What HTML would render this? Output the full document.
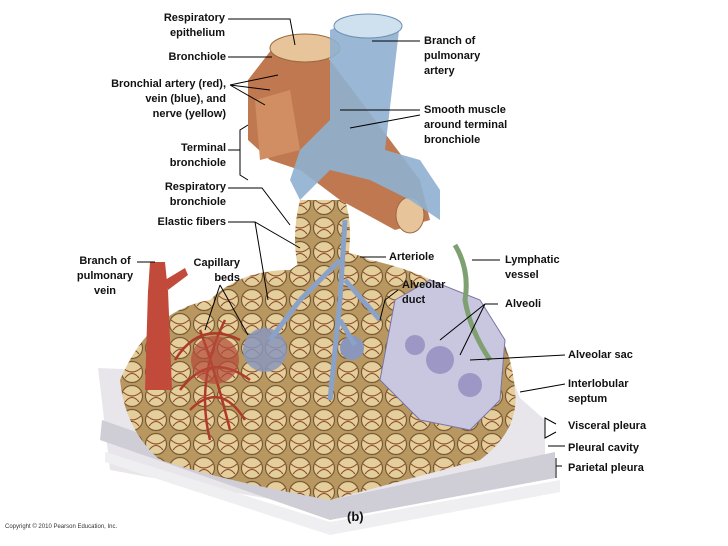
<!DOCTYPE html>
<html><head><meta charset="utf-8"><style>
html,body{margin:0;padding:0;background:#fff;}
#c{position:relative;width:728px;height:546px;overflow:hidden;font-family:"Liberation Sans",sans-serif;}
.l{position:absolute;font-size:11px;font-weight:bold;line-height:15px;color:#111;}
.r{text-align:right;}
</style></head><body><div id="c">
<svg width="728" height="546" style="position:absolute;left:0;top:0">
<defs>
<pattern id="alv" width="24" height="24" patternUnits="userSpaceOnUse">
<rect width="24" height="24" fill="#b89860"/>
<circle cx="12" cy="12" r="10.5" fill="#e4cf9c" stroke="#7a5a34" stroke-width="1.2"/>
<path d="M3 8 Q12 16 21 8 M5 18 Q12 9 19 18" stroke="#8a4a2a" fill="none" stroke-width="1.1"/>
</pattern>
</defs>
<!-- pleura layers -->
<path d="M98 368 L110 470 L330 510 L545 470 L545 420 L520 398 L505 360 L400 380 Z" fill="#e8e6ea"/>
<path d="M100 440 L330 520 L555 478 L555 452 L330 500 L102 420 Z" fill="#cfcdd6"/>
<path d="M105 462 L330 535 L560 492 L560 480 L330 522 L105 452 Z" fill="#efeef0"/>
<!-- alveoli mass -->
<path d="M120 380 Q150 310 210 300 Q240 270 290 270 Q330 240 370 260 Q420 270 470 300 Q510 330 515 390 Q520 430 480 460 L330 500 Q220 480 160 460 Q125 430 120 380 Z" fill="url(#alv)"/>
<!-- alveolar sac purple -->
<path d="M395 300 L430 280 L480 300 L505 340 L500 400 L470 430 L420 420 L380 380 Z" fill="#c9c6e0" stroke="#7a75a5"/>
<circle cx="440" cy="360" r="14" fill="#9c97c4"/><circle cx="470" cy="385" r="12" fill="#9c97c4"/><circle cx="415" cy="345" r="10" fill="#9c97c4"/>
<!-- capillary clusters -->
<g stroke="#b03a2a" stroke-width="2.5" fill="none">
<path d="M175 360 Q200 320 240 340 M180 390 Q210 350 250 380 M190 410 Q220 380 245 420 M200 330 Q215 370 230 430 M225 320 Q195 380 210 440"/>
</g>
<circle cx="215" cy="360" r="24" fill="#b54a3a" opacity=".7"/>
<circle cx="265" cy="350" r="22" fill="#8a96bc" opacity=".85"/>
<circle cx="352" cy="348" r="12" fill="#8a96bc"/>
<!-- pulmonary vein -->
<path d="M148 290 L168 290 L172 390 L145 390 Z" fill="#c24a3a"/>
<path d="M150 262 L165 262 L168 292 L148 292 Z" fill="#c24a3a"/>
<path d="M165 280 L185 268 L188 275 L168 290Z" fill="#c24a3a"/>
<!-- bronchiole column -->
<path d="M300 200 Q290 240 300 275 L345 275 Q355 230 345 200 Z" fill="url(#alv)"/>
<path d="M248 80 L275 45 Q310 30 330 60 L360 100 L420 180 L430 220 L395 230 L340 200 L300 170 L270 160 L248 140 Z" fill="#c07850"/>
<path d="M255 100 L290 90 L300 150 L260 160 Z" fill="#d08e62"/>
<ellipse cx="305" cy="48" rx="35" ry="14" fill="#e8c49a" stroke="#9a6a40"/>
<ellipse cx="410" cy="215" rx="14" ry="18" fill="#e8c49a" stroke="#9a6a40"/>
<!-- pulmonary artery -->
<path d="M330 30 Q360 15 400 22 L385 150 L420 160 L440 190 L440 220 L410 200 L370 180 L330 170 L300 200 L290 180 L300 150 L330 120 Z" fill="#8fb0d0" opacity=".9"/>
<ellipse cx="368" cy="26" rx="34" ry="12" fill="#cfe0ee" stroke="#6a8fb0"/>
<!-- arterioles -->
<path d="M345 220 L340 300 L330 400 M340 260 L300 300 M345 280 L380 320 M300 300 L270 340 M340 320 L355 345" stroke="#8aa2c8" stroke-width="5" fill="none"/>
<!-- lymphatic -->
<path d="M455 245 Q470 270 465 300 Q470 330 490 360" stroke="#7fa070" stroke-width="5" fill="none"/>
<!-- leader lines -->
<g stroke="#000" stroke-width="1" fill="none">
<path d="M228 19 L290 19 L295 45"/>
<path d="M228 57 L272 57"/>
<path d="M230 85 L265 105 M230 85 L278 75 M230 85 L270 90"/>
<path d="M248 125 L240 130 L240 175 L248 180 M240 150 L228 150"/>
<path d="M228 188 L262 188 L290 225"/>
<path d="M228 222 L255 222 L300 248 M255 222 L268 300"/>
<path d="M137 262 L155 262"/>
<path d="M220 285 L205 330 M220 285 L248 335"/>
<path d="M420 41 L372 41"/>
<path d="M420 110 L340 110 M420 115 L350 128"/>
<path d="M386 257 L360 257"/>
<path d="M398 290 L385 300 L380 320"/>
<path d="M500 260 L472 260"/>
<path d="M498 304 L485 304 L440 340 M485 304 L460 355"/>
<path d="M565 355 L470 360"/>
<path d="M565 384 L520 392"/>
<path d="M556 424 L545 418 L545 438 L556 432"/>
<path d="M565 446 L548 446"/>
<path d="M562 466 L556 466 L556 458 M556 466 L556 478"/>
</g>
</svg>
<div class="l r" style="left:130px;top:11px;width:95px">Respiratory<br>epithelium</div>
<div class="l r" style="left:130px;top:50px;width:96px">Bronchiole</div>
<div class="l r" style="left:60px;top:77px;width:166px">Bronchial artery (red),<br>vein (blue), and<br>nerve (yellow)</div>
<div class="l r" style="left:130px;top:141px;width:96px">Terminal<br>bronchiole</div>
<div class="l r" style="left:130px;top:180px;width:96px">Respiratory<br>bronchiole</div>
<div class="l r" style="left:130px;top:215px;width:96px">Elastic fibers</div>
<div class="l" style="left:70px;top:254px;width:70px;text-align:center">Branch of<br>pulmonary<br>vein</div>
<div class="l r" style="left:180px;top:256px;width:60px">Capillary<br>beds</div>
<div class="l" style="left:424px;top:34px">Branch of<br>pulmonary<br>artery</div>
<div class="l" style="left:424px;top:103px">Smooth muscle<br>around terminal<br>bronchiole</div>
<div class="l" style="left:389px;top:250px">Arteriole</div>
<div class="l" style="left:402px;top:278px">Alveolar<br>duct</div>
<div class="l" style="left:505px;top:253px">Lymphatic<br>vessel</div>
<div class="l" style="left:505px;top:297px">Alveoli</div>
<div class="l" style="left:568px;top:348px">Alveolar sac</div>
<div class="l" style="left:568px;top:377px">Interlobular<br>septum</div>
<div class="l" style="left:568px;top:419px">Visceral pleura</div>
<div class="l" style="left:568px;top:441px">Pleural cavity</div>
<div class="l" style="left:568px;top:461px">Parietal pleura</div>
<div class="l" style="left:347px;top:509px;font-size:13px">(b)</div>
<div style="position:absolute;left:5px;top:524px;font-size:6px;color:#333">Copyright © 2010 Pearson Education, Inc.</div>
</div></body></html>
